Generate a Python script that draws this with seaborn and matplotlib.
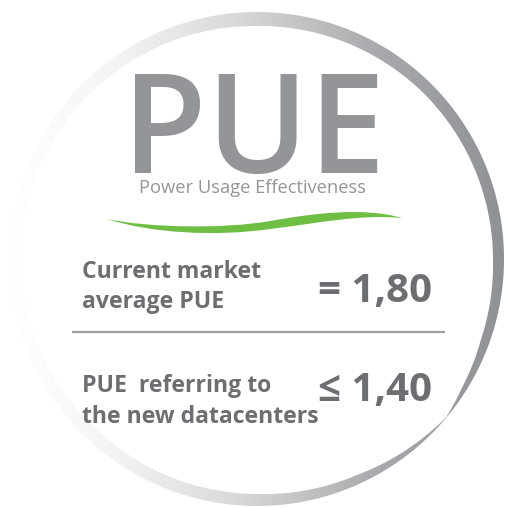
import numpy as np
import matplotlib
matplotlib.use("Agg")
import matplotlib.pyplot as plt
from matplotlib.path import Path
from matplotlib.patches import PathPatch
from matplotlib.colors import LinearSegmentedColormap
import seaborn as sns

# ---- content ----
title = "PUE"
subtitle = "Power Usage Effectiveness"
labels = ["Current market\naverage PUE", "PUE  referring to\nthe new datacenters"]
operators = ["=", "\u2264"]
values = [1.80, 1.40]

sns.set_theme(style="white")
FAM = ["Open Sans", "DejaVu Sans"]
plt.rcParams["font.family"] = FAM

fig = plt.figure(figsize=(5.12, 5.08), dpi=100)
ax = fig.add_axes([0, 0, 1, 1])
ax.set_xlim(0, 512)
ax.set_ylim(508, 0)
ax.axis("off")

# ---- ring with horizontal gradient ----
cx, cy, R = 257, 259, 247
ang_ctrl = np.array([0, 20, 32, 40, 50, 65, 90, 135, 180, 225, 270, 315, 360])
thk_ctrl = np.array([11, 9, 5, 0.4, 4, 9, 12, 13, 10, 12, 14, 12, 11])
th = np.linspace(0, 360, 721)
thk = np.interp(th, ang_ctrl, thk_ctrl)
rad = np.deg2rad(th)
outer = np.column_stack([cx + R * np.cos(rad), cy + R * np.sin(rad)])
inner = np.column_stack([cx + (R - thk) * np.cos(rad), cy + (R - thk) * np.sin(rad)])[::-1]
verts = np.vstack([outer, outer[:1], inner, inner[:1]])
codes = ([Path.MOVETO] + [Path.LINETO] * (len(outer) - 1) + [Path.CLOSEPOLY]
         + [Path.MOVETO] + [Path.LINETO] * (len(inner) - 1) + [Path.CLOSEPOLY])
ring = PathPatch(Path(verts, codes), facecolor="none", edgecolor="none")
ax.add_patch(ring)
cmap = LinearSegmentedColormap.from_list(
    "ring", [(0.0, "#ffffff"), (0.2, "#f5f5f6"), (0.45, "#d9dadb"),
             (0.75, "#a8a9ac"), (1.0, "#8f9194")])
grad = np.linspace(0, 1, 256).reshape(1, -1)
im = ax.imshow(grad, cmap=cmap, extent=(10, 504, 508, 0), aspect="auto", zorder=1)
im.set_clip_path(ring)

# ---- title ----
ax.text(254, 173, title, fontsize=99, fontweight="semibold", color="#939598",
        va="baseline", ha="center", zorder=3)
ax.text(139, 193, subtitle, fontsize=13.2, color="#939598", va="baseline", ha="left", zorder=3)

# ---- green swoosh ----
sw_verts = [(107, 219),
            (150, 228), (225, 229), (270, 221),
            (315, 213), (365, 207), (402, 218),
            (360, 214), (320, 223), (270, 229),
            (215, 237), (150, 233), (107, 219)]
sw_codes = [Path.MOVETO] + [Path.CURVE4] * 12
ax.add_patch(PathPatch(Path(sw_verts, sw_codes), facecolor="#6fbe44", edgecolor="none", zorder=3))

# ---- rows ----
text_col = "#6d6e71"
line_base = [(278, 308), (392, 423)]
value_base = [302, 401]
for lab, op, val, (b1, b2), vb in zip(labels, operators, values, line_base, value_base):
    l1, l2 = lab.split("\n")
    ax.text(82, b1, l1, fontsize=16.6, fontweight="bold", color=text_col, va="baseline", ha="left", zorder=3)
    ax.text(82, b2, l2, fontsize=16.6, fontweight="bold", color=text_col, va="baseline", ha="left", zorder=3)
    vs = f"{val:.2f}".replace(".", ",")
    ax.text(432, vb, f"{op} {vs}", fontsize=29, fontweight="bold", color=text_col,
            va="baseline", ha="right", zorder=3)

ax.plot([72, 445], [332, 332], color="#9d9ea0", lw=1.6, solid_capstyle="butt", zorder=3)

fig.savefig("out.png", dpi=100, facecolor="white")
